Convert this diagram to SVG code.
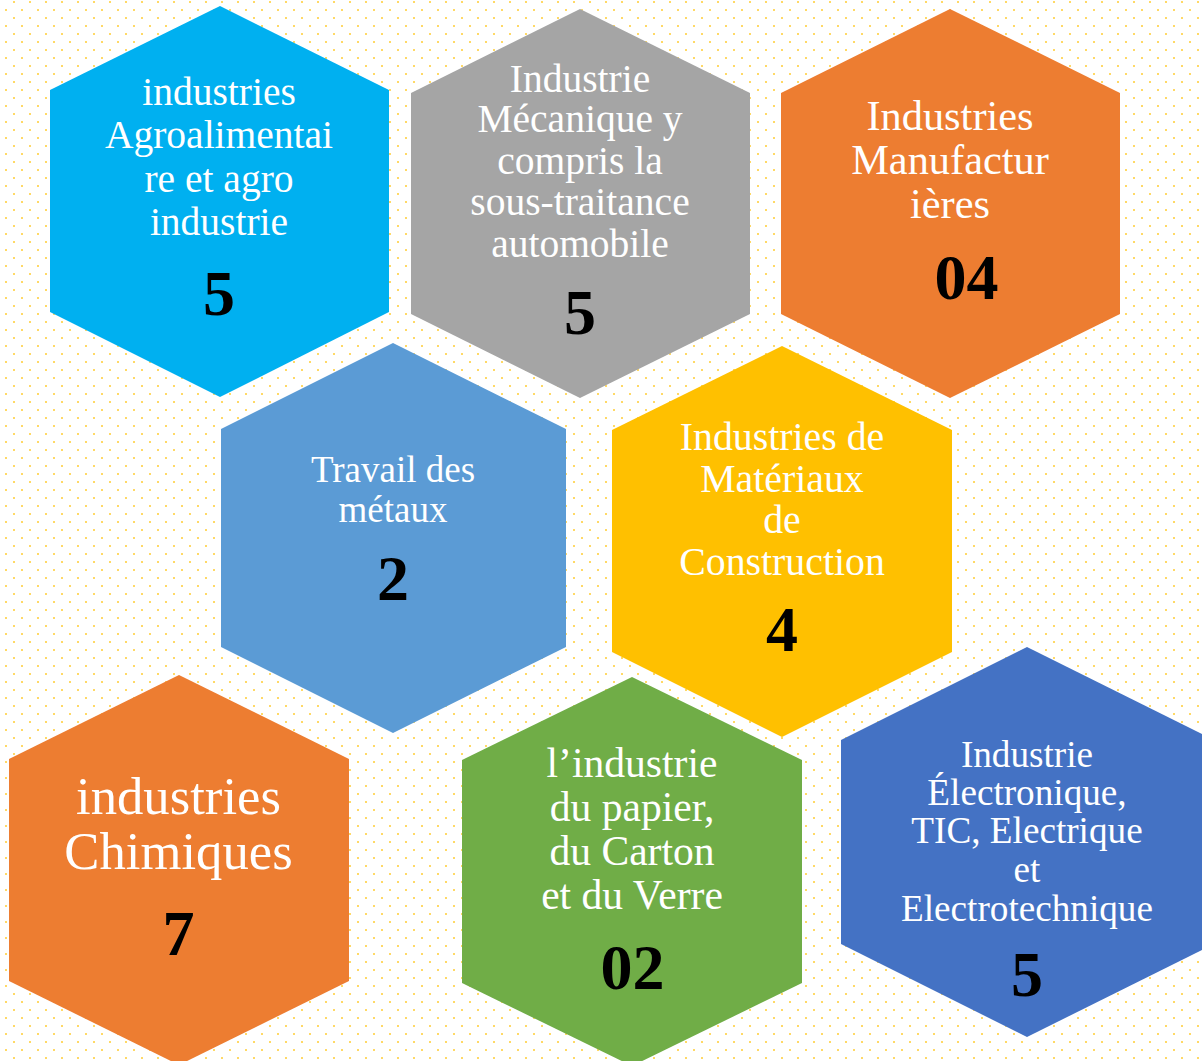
<svg xmlns="http://www.w3.org/2000/svg" width="1202" height="1061" viewBox="0 0 1202 1061">
<defs>
<pattern id="dots" patternUnits="userSpaceOnUse" x="0" y="0" width="16" height="16">
<rect x="13" y="1" width="2" height="2" fill="#FFD966"/>
<rect x="5" y="9" width="2" height="2" fill="#FFD966"/>
</pattern>
<style>
.lbl{font-family:"Liberation Serif","Times New Roman",serif;fill:#FFFFFF;text-anchor:middle}
.num{font-family:"Liberation Serif","Times New Roman",serif;font-weight:bold;fill:#000000;text-anchor:middle;font-size:64px}
</style>
</defs>
<rect x="0" y="0" width="1202" height="1061" fill="#FFFFFF"/>
<rect x="0" y="0" width="1202" height="1061" fill="url(#dots)"/>
<g id="connectors"/>
<g id="hex-agro">
<polygon points="220,6 389,90 389,312 220,397 50,312 50,90" fill="#00B0F0"/>
<text class="lbl" font-size="39.5" x="219" y="105">industries</text>
<text class="lbl" font-size="39.5" x="219" y="148">Agroalimentai</text>
<text class="lbl" font-size="39.5" x="219" y="192">re et agro</text>
<text class="lbl" font-size="39.5" x="219" y="235">industrie</text>
<text class="num" x="219" y="315">5</text>
</g>
<g id="hex-meca">
<polygon points="580,9 750,93 750,314 580,398 411,314 411,93" fill="#A5A5A5"/>
<text class="lbl" font-size="39.5" x="580" y="92">Industrie</text>
<text class="lbl" font-size="39.5" x="580" y="132">Mécanique y</text>
<text class="lbl" font-size="39.5" x="580" y="174">compris la</text>
<text class="lbl" font-size="39.5" x="580" y="215">sous-traitance</text>
<text class="lbl" font-size="39.5" x="580" y="257">automobile</text>
<text class="num" x="580" y="334">5</text>
</g>
<g id="hex-manuf">
<polygon points="950,9 1120,93 1120,314 950,398 781,314 781,93" fill="#ED7D31"/>
<text class="lbl" font-size="42.4" x="950" y="130">Industries</text>
<text class="lbl" font-size="42.4" x="950" y="174">Manufactur</text>
<text class="lbl" font-size="42.4" x="950" y="218">ières</text>
<text class="num" x="966.5" y="299">04</text>
</g>
<g id="hex-metaux">
<polygon points="393,343 566,429 566,647 393,733 221,647 221,429" fill="#5B9BD5"/>
<text class="lbl" font-size="37" x="393" y="482">Travail des</text>
<text class="lbl" font-size="37" x="393" y="522">métaux</text>
<text class="num" x="393" y="600">2</text>
</g>
<g id="hex-construction">
<polygon points="782,346 952,430 952,652 782,737 612,652 612,430" fill="#FFC000"/>
<text class="lbl" font-size="39.8" x="782" y="450">Industries de</text>
<text class="lbl" font-size="39.8" x="782" y="492">Matériaux</text>
<text class="lbl" font-size="39.8" x="782" y="533">de</text>
<text class="lbl" font-size="39.8" x="782" y="575">Construction</text>
<text class="num" x="782" y="651">4</text>
</g>
<g id="hex-chimiques">
<polygon points="179,675 349,759 349,981 179,1065 9,981 9,759" fill="#ED7D31"/>
<text class="lbl" font-size="52.7" x="178.5" y="814">industries</text>
<text class="lbl" font-size="52.7" x="178.5" y="869">Chimiques</text>
<text class="num" x="178.5" y="955">7</text>
</g>
<g id="hex-papier">
<polygon points="632,677 802,760 802,983 632,1066 462,983 462,760" fill="#70AD47"/>
<text class="lbl" font-size="41.6" x="632" y="777">l’industrie</text>
<text class="lbl" font-size="41.6" x="632" y="821">du papier,</text>
<text class="lbl" font-size="41.6" x="632" y="865">du Carton</text>
<text class="lbl" font-size="41.6" x="632" y="909">et du Verre</text>
<text class="num" x="632.5" y="989">02</text>
</g>
<g id="hex-electro">
<polygon points="1027,647 1214,740 1214,944 1027,1037 841,944 841,740" fill="#4472C4"/>
<text class="lbl" font-size="37.2" x="1027" y="767">Industrie</text>
<text class="lbl" font-size="37.2" x="1027" y="805">Électronique,</text>
<text class="lbl" font-size="37.2" x="1027" y="843">TIC, Electrique</text>
<text class="lbl" font-size="37.2" x="1027" y="882">et</text>
<text class="lbl" font-size="37.2" x="1027" y="921">Electrotechnique</text>
<text class="num" x="1027" y="996">5</text>
</g>
</svg>
